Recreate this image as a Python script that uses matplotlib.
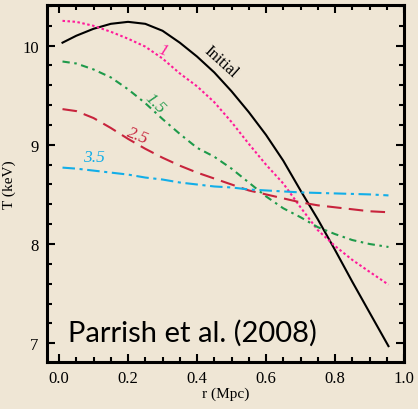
import matplotlib
matplotlib.use('Agg')
import matplotlib.pyplot as plt
from matplotlib.ticker import MultipleLocator, FormatStrFormatter

# ── data ────────────────────────────────────────────────────────────────
r = [0.01, 0.05, 0.1, 0.15, 0.2, 0.25, 0.3, 0.35, 0.4, 0.45, 0.5,
     0.55, 0.6, 0.65, 0.7, 0.75, 0.8, 0.85, 0.9, 0.955]

T_initial = [10.03, 10.10, 10.17, 10.22, 10.24, 10.22, 10.15, 10.03, 9.89, 9.73,
             9.54, 9.33, 9.10, 8.84, 8.54, 8.25, 7.94, 7.62, 7.31, 6.97]
T_1 = [10.25, 10.24, 10.20, 10.14, 10.07, 9.99, 9.87, 9.72, 9.59, 9.43,
       9.23, 9.01, 8.80, 8.61, 8.37, 8.14, 7.98, 7.84, 7.72, 7.59]
T_15 = [9.84, 9.82, 9.76, 9.68, 9.56, 9.42, 9.26, 9.11, 8.97, 8.88,
        8.76, 8.62, 8.48, 8.36, 8.27, 8.17, 8.10, 8.04, 8.00, 7.97]
T_25 = [9.36, 9.34, 9.27, 9.17, 9.06, 8.96, 8.87, 8.79, 8.72, 8.66,
        8.60, 8.54, 8.50, 8.46, 8.42, 8.39, 8.37, 8.35, 8.33, 8.32]
T_35 = [8.77, 8.76, 8.74, 8.72, 8.70, 8.67, 8.65, 8.62, 8.60, 8.58,
        8.57, 8.55, 8.54, 8.53, 8.52, 8.515, 8.51, 8.505, 8.50, 8.49]

BG = '#efe6d5'
plt.rcParams['font.family'] = ['Liberation Serif', 'DejaVu Serif']

fig = plt.figure(figsize=(4.18, 4.10), dpi=100, facecolor=BG)
ax = fig.add_axes([0.1124, 0.1146, 0.8541, 0.8708], facecolor=BG)

ax.plot(r, T_initial, color='black', lw=1.5, ls='-')
ax.plot(r, T_1, color='#ff1a9a', lw=1.5, ls=(0, (1.2, 1.2)))
ax.plot(r, T_15, color='#1e9a4a', lw=1.5, ls=(0, (3.5, 2.2, 1.2, 2.2)))
ax.plot(r, T_25, color='#c8233c', lw=1.5, ls=(0, (7, 3.5)))
ax.plot(r, T_35, color='#12aee8', lw=1.5, ls=(0, (6, 2.2, 1.5, 2.2)))

# curve labels
ax.text(0.30, 9.96, '1', color='#ff1a9a', fontsize=12.5, style='italic',
        rotation=-22, ha='center', va='center')
ax.text(0.278, 9.42, '1.5', color='#1e9a4a', fontsize=12.5, style='italic',
        rotation=-45, ha='center', va='center')
ax.text(0.229, 9.10, '2.5', color='#c8233c', fontsize=12.5, style='italic',
        rotation=-22, ha='center', va='center')
ax.text(0.10, 8.88, '3.5', color='#12aee8', fontsize=12.5, style='italic',
        rotation=0, ha='center', va='center')
ax.text(0.47, 9.84, 'Initial', color='black', fontsize=12,
        rotation=-42, ha='center', va='center')

ax.text(0.388, 7.11, 'Parrish et al. (2008)', fontsize=21, family=['Lato', 'DejaVu Sans'],
        ha='center', va='center', color='black')

ax.set_xlim(-0.035, 1.0)
ax.set_ylim(6.81, 10.41)
ax.xaxis.set_major_locator(MultipleLocator(0.2))
ax.xaxis.set_minor_locator(MultipleLocator(0.05))
ax.yaxis.set_major_locator(MultipleLocator(1))
ax.yaxis.set_minor_locator(MultipleLocator(0.2))
ax.xaxis.set_major_formatter(FormatStrFormatter('%.1f'))
ax.yaxis.set_major_formatter(FormatStrFormatter('%.0f'))
ax.tick_params(which='both', direction='in', top=True, right=True, width=1.5)
ax.tick_params(which='major', length=6, labelsize=12, pad=6)
ax.tick_params(which='minor', length=3.5)
for s in ax.spines.values():
    s.set_linewidth(2.2)

ax.set_xlabel('r (Mpc)', fontsize=11, labelpad=0)
ax.set_ylabel('T (keV)', fontsize=11, labelpad=4)

fig.savefig('out.png', dpi=100, facecolor=BG)
